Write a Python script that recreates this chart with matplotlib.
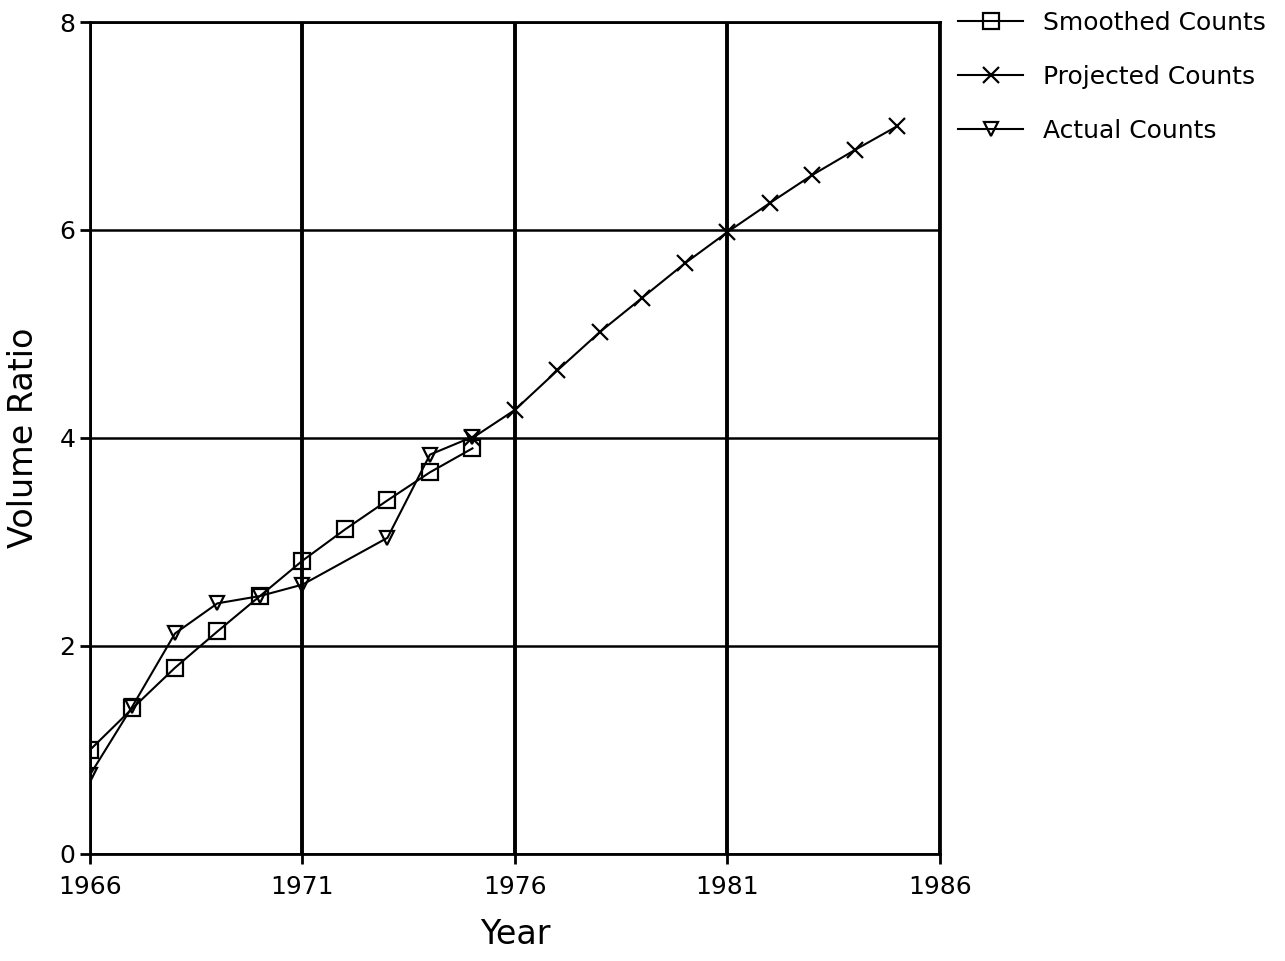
import numpy as np
import matplotlib

matplotlib.use("Agg")

import matplotlib.pyplot as plt

# ----- data -----
smoothed_years = [1966, 1967, 1968, 1969, 1970, 1971, 1972, 1973, 1974, 1975]
smoothed_vals = [1.0, 1.40, 1.79, 2.14, 2.48, 2.82, 3.12, 3.40, 3.67, 3.90]

projected_years = [1975, 1976, 1977, 1978, 1979, 1980, 1981, 1982, 1983, 1984, 1985]
projected_vals = [4.0, 4.27, 4.65, 5.02, 5.35, 5.68, 5.98, 6.26, 6.53, 6.77, 7.0]

actual_years = [1966, 1967, 1968, 1969, 1970, 1971, 1973, 1974, 1975]
actual_vals = [0.76, 1.42, 2.12, 2.41, 2.48, 2.59, 3.04, 3.84, 4.01]

x_ticks = [1966, 1971, 1976, 1981, 1986]
y_ticks = [0, 2, 4, 6, 8]

plt.rcParams["font.family"] = ["DejaVu Sans"]

fig = plt.figure(figsize=(12.85, 9.61), dpi=100)
ax = fig.add_axes([0.070, 0.1114, 0.6615, 0.8657])

ax.plot(smoothed_years, smoothed_vals, color="black", lw=1.5,
        marker="s", ms=11, mfc="none", mec="black", mew=1.6,
        label="Smoothed Counts")
ax.plot(projected_years, projected_vals, color="black", lw=1.5,
        marker="x", ms=11, mew=1.6, label="Projected Counts")
ax.plot(actual_years, actual_vals, color="black", lw=1.5,
        marker="v", ms=10, mfc="none", mec="black", mew=1.6,
        label="Actual Counts")

ax.set_xlim(1966, 1986)
ax.set_ylim(0, 8)
ax.set_xticks(x_ticks)
ax.set_yticks(y_ticks)
ax.tick_params(labelsize=18, length=7, width=2, direction="out", colors="black")
ax.tick_params(axis="x", pad=8)

# grid: heavier verticals, lighter horizontals
ax.xaxis.grid(True, color="black", lw=2.8)
ax.yaxis.grid(True, color="black", lw=1.8)
ax.set_axisbelow(True)
for s in ax.spines.values():
    s.set_linewidth(2)

ax.set_xlabel("Year", fontsize=24, labelpad=14)
ax.set_ylabel("Volume Ratio", fontsize=24, labelpad=14)

ax.legend(loc="upper left", bbox_to_anchor=(1.01, 1.025), frameon=False,
          fontsize=18, handlelength=2.6, labelspacing=1.2, borderaxespad=0)

fig.savefig("out.png", dpi=100)
